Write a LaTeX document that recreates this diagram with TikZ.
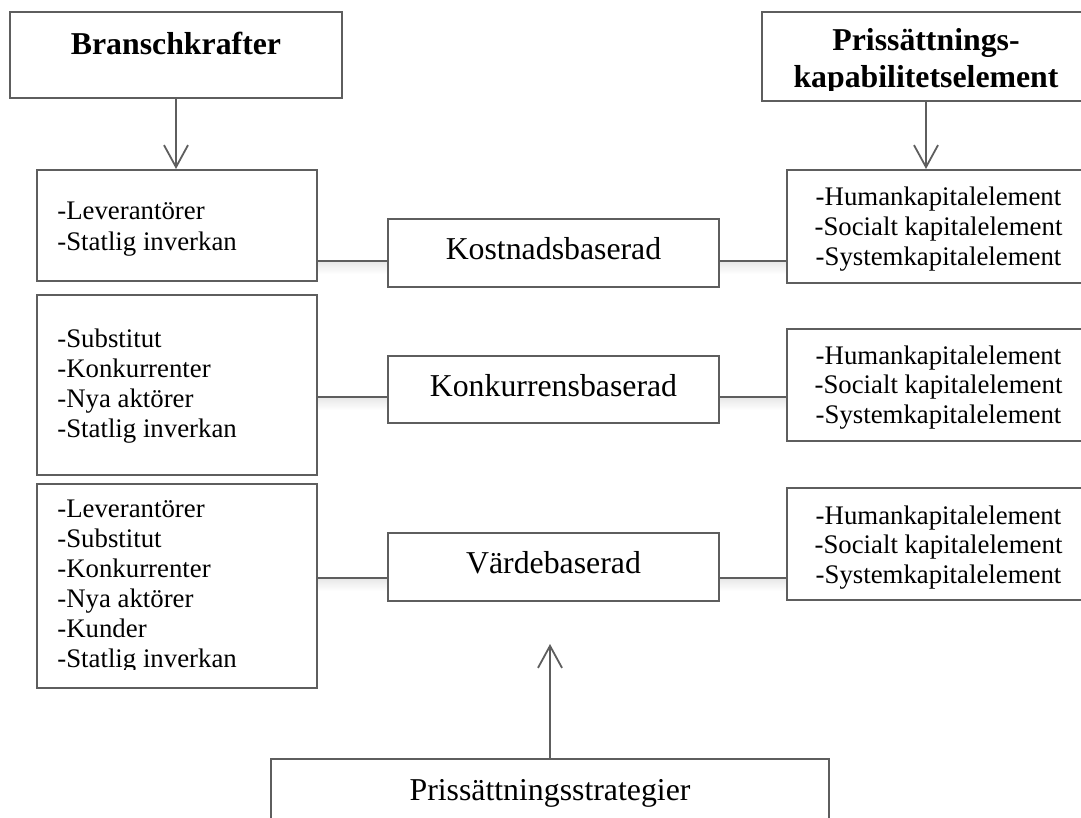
\documentclass[tikz,border=0pt]{standalone}
\usepackage{fontspec}
\setmainfont{Liberation Serif}
\usetikzlibrary{arrows.meta,calc}
\definecolor{edge}{HTML}{5E5E5E}
\tikzset{
  frame/.style={draw=edge, line width=1pt, fill=white, rectangle, inner sep=0pt},
  link/.style={draw=edge, line width=0.9pt},
  flow/.style={link, -{Straight Barb[length=11pt,width=12pt,line width=0.9pt]}},
  glow/.style={top color=black!9, bottom color=white, draw=none},
  head/.style={font=\fontsize{15.9}{18}\selectfont, anchor=base, inner sep=0pt},
  headbf/.style={font=\fontsize{15.9}{18}\selectfont\bfseries, anchor=base, inner sep=0pt},
  item/.style={font=\fontsize{13.4}{15}\selectfont, anchor=base west, inner sep=0pt},
  ritem/.style={font=\fontsize{13.4}{15}\selectfont, anchor=base, inner sep=0pt},
}
\begin{document}
\begin{tikzpicture}[x=0.5pt, y=-0.5pt]
\clip (0,0) rectangle (1081,818);
\fill[white] (0,0) rectangle (1081,818);

% connector anchor points (left and right of each strategy box)
\coordinate (k0) at (553.5,261);
\coordinate (k1) at (553.5,397);
\coordinate (k2) at (553.5,578);

% soft shadows under the horizontal links
\foreach \c in {k0,k1,k2}{
  \shade[glow] ($(\c)+(-237,1)$) rectangle ($(\c)+(-160,13)$);
  \shade[glow] ($(\c)+(160,1)$) rectangle ($(\c)+(240,13)$);
}

% headers
\node[frame, minimum width=166pt, minimum height=43pt] (brans) at (176,55) {};
\node[frame, minimum width=164pt, minimum height=44.5pt] (kapab) at (926,56.5) {};

% industry-force boxes
\node[frame, minimum width=140pt, minimum height=55.5pt] (L1) at (177,225.5) {};
\node[frame, minimum width=140pt, minimum height=90pt] (L2) at (177,385) {};
\node[frame, minimum width=140pt, minimum height=102pt] (L3) at (177,586) {};

% strategy boxes
\node[frame, minimum width=165.5pt, minimum height=34pt] (K) at (553.5,253) {};
\node[frame, minimum width=165.5pt, minimum height=33.5pt] (Kon) at (553.5,389.5) {};
\node[frame, minimum width=165.5pt, minimum height=34pt] (V) at (553.5,567) {};

% capability boxes
\node[frame, minimum width=151.5pt, minimum height=56.5pt] (R1) at (938.5,226.5) {};
\node[frame, minimum width=151.5pt, minimum height=56pt] (R2) at (938.5,385) {};
\node[frame, minimum width=151.5pt, minimum height=56pt] (R3) at (938.5,544) {};

% pricing strategies
\node[frame, minimum width=279pt, minimum height=40.5pt] (strat) at (550,799.5) {};
\coordinate (tip) at ($(strat.north)+(0,-114)$);

% arrows
\draw[flow] (brans.south) -- (brans.south |- L1.north);
\draw[flow] (kapab.south) -- (kapab.south |- R1.north);
\draw[flow] (strat.north) -- (tip);

% links
\draw[link] (k0 -| L1.east) -- (k0 -| K.west);
\draw[link] (k0 -| K.east) -- (k0 -| R1.west);
\draw[link] (k1 -| L2.east) -- (k1 -| Kon.west);
\draw[link] (k1 -| Kon.east) -- (k1 -| R2.west);
\draw[link] (k2 -| L3.east) -- (k2 -| V.west);
\draw[link] (k2 -| V.east) -- (k2 -| R3.west);

% texts
\node[headbf] (bransT) at (176,55) {Branschkrafter};
\begin{scope}
  \clip (762,12) rectangle (1090,91);
  \node[headbf] (kapT1) at (926,51) {Prissättnings-};
  \node[headbf] (kapT2) at (926,88) {kapabilitetselement};
\end{scope}

\node[item] (l1a) at (57,220) {-Leverantörer};
\node[item] (l1b) at (57,250) {-Statlig inverkan};

\node[item] (l2a) at (57,347) {-Substitut};
\node[item] (l2b) at (57,377) {-Konkurrenter};
\node[item] (l2c) at (57,407) {-Nya aktörer};
\node[item] (l2d) at (57,437) {-Statlig inverkan};

\begin{scope}
  \clip (37,485) rectangle (317,669);
  \node[item] (l3a) at (57,517) {-Leverantörer};
  \node[item] (l3b) at (57,547) {-Substitut};
  \node[item] (l3c) at (57,577) {-Konkurrenter};
  \node[item] (l3d) at (57,607) {-Nya aktörer};
  \node[item] (l3e) at (57,637) {-Kunder};
  \node[item] (l3f) at (57,667) {-Statlig inverkan};
\end{scope}

\node[head] (KT) at (553.5,260) {Kostnadsbaserad};
\node[head] (KonT) at (553.5,396) {Konkurrensbaserad};
\node[head] (VT) at (553.5,573) {Värdebaserad};

\foreach \b/\y in {R1/206, R2/364, R3/524}{
  \node[ritem] (\b a) at (938.5,\y) {-Humankapitalelement};
  \node[ritem] (\b b) at (938.5,\y+29.5) {-Socialt kapitalelement};
  \node[ritem] (\b c) at (938.5,\y+59) {-Systemkapitalelement};
}

\node[head] (stratT) at (550,800) {Prissättningsstrategier};
\end{tikzpicture}
\end{document}
